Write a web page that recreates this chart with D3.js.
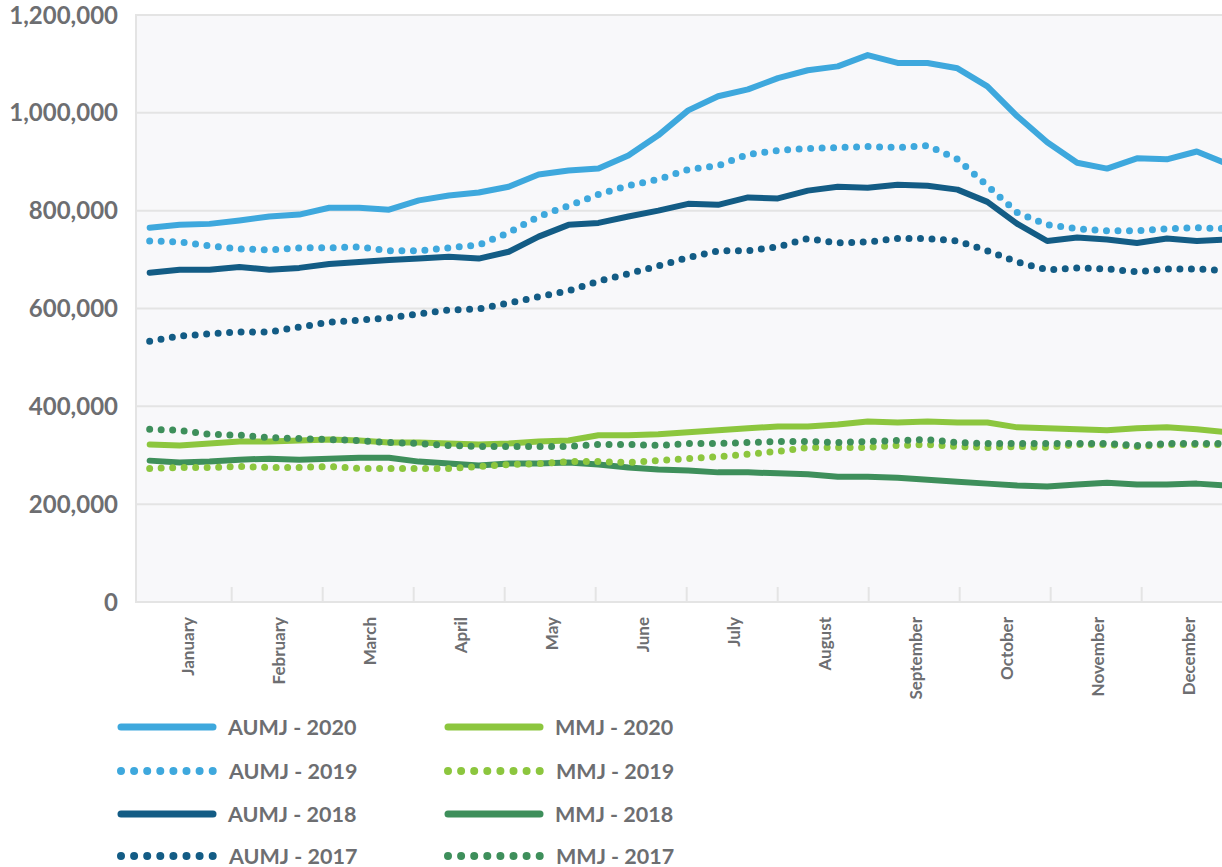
<!DOCTYPE html>
<html>
<meta charset="utf-8">
<head>
<style>
  body { margin: 0; background: #fff; overflow: hidden; }
  svg { display: block; }
  text { font-family: Lato, "Open Sans", sans-serif; font-weight: bold; fill: #6d6e71; }
</style>
</head>
<body>
<div id="chart"></div>
<script src="https://cdn.jsdelivr.net/npm/d3@7"></script>
<script>
// sample days (day of year) for every series
var days = [3, 13, 23, 33, 43, 53, 63, 73, 83, 93, 103, 113, 123, 133, 143, 153, 163, 173, 183,
            193, 203, 213, 223, 233, 243, 253, 263, 273, 283, 293, 303, 313, 323, 333, 343, 353, 363];

var months = ["January", "February", "March", "April", "May", "June", "July",
              "August", "September", "October", "November", "December"];

var yTicks = [0, 200000, 400000, 600000, 800000, 1000000, 1200000];

// values in thousands
var aumj2020 = [765, 771, 773, 780, 788, 792, 806, 806, 802, 821, 831, 837, 849, 874, 882, 886, 913, 954, 1005,
                1034, 1048, 1071, 1087, 1095, 1118, 1102, 1102, 1091, 1054, 993, 940, 898, 886, 907, 905, 921, 896];
var aumj2019 = [738, 736, 728, 722, 720, 724, 724, 726, 718, 718, 724, 730, 755, 788, 810, 833, 851, 864, 884,
                892, 915, 923, 927, 929, 931, 929, 933, 905, 851, 796, 771, 763, 759, 759, 763, 765, 763];
var aumj2018 = [673, 679, 679, 685, 679, 683, 691, 695, 699, 702, 706, 702, 716, 747, 771, 775, 788, 800, 814,
                812, 827, 825, 841, 849, 847, 853, 851, 843, 818, 773, 738, 745, 741, 734, 743, 738, 741];
var aumj2017 = [533, 544, 548, 552, 552, 562, 572, 576, 581, 589, 597, 599, 611, 624, 636, 656, 671, 687, 704,
                718, 718, 726, 743, 734, 736, 743, 743, 738, 718, 695, 679, 683, 681, 675, 681, 681, 677];
var mmj2020 = [322, 320, 324, 328, 328, 330, 332, 330, 326, 326, 324, 322, 324, 328, 330, 341, 341, 343, 347,
               351, 355, 359, 359, 363, 369, 367, 369, 367, 367, 357, 355, 353, 351, 355, 357, 353, 347];
var mmj2019 = [273, 275, 275, 277, 275, 275, 277, 273, 273, 273, 273, 277, 281, 283, 287, 287, 285, 289, 293,
               297, 302, 308, 316, 316, 316, 320, 322, 318, 316, 318, 316, 322, 322, 318, 322, 322, 322];
var mmj2018 = [289, 285, 287, 291, 293, 291, 293, 295, 295, 287, 283, 279, 283, 283, 285, 281, 275, 271, 269,
               265, 265, 263, 261, 256, 256, 254, 250, 246, 242, 238, 236, 240, 244, 240, 240, 242, 238];
var mmj2017 = [353, 351, 343, 341, 336, 334, 332, 330, 326, 324, 320, 318, 318, 318, 318, 322, 322, 320, 324,
               324, 326, 328, 328, 326, 328, 330, 332, 326, 324, 324, 324, 324, 324, 320, 324, 324, 324];

var lightBlue = "#3ea8dd", darkBlue = "#135c85", lightGreen = "#8cc63e", darkGreen = "#3e8f5b";

// draw order: 2020, 2018, 2019, 2017
var series = [
  {name: "AUMJ - 2020", values: aumj2020, color: lightBlue, dotted: false, col: 0, row: 0},
  {name: "MMJ - 2020", values: mmj2020, color: lightGreen, dotted: false, col: 1, row: 0},
  {name: "AUMJ - 2018", values: aumj2018, color: darkBlue, dotted: false, col: 0, row: 2},
  {name: "MMJ - 2018", values: mmj2018, color: darkGreen, dotted: false, col: 1, row: 2},
  {name: "AUMJ - 2019", values: aumj2019, color: lightBlue, dotted: true, col: 0, row: 1},
  {name: "MMJ - 2019", values: mmj2019, color: lightGreen, dotted: true, col: 1, row: 1},
  {name: "AUMJ - 2017", values: aumj2017, color: darkBlue, dotted: true, col: 0, row: 3},
  {name: "MMJ - 2017", values: mmj2017, color: darkGreen, dotted: true, col: 1, row: 3}
];

var W = 1222, H = 867;
var left = 136, plotTop = 15, plotBottom = 602;
var xStart = 140.7, xEnd = 1232.7;

var svg = d3.select("#chart").append("svg")
    .attr("width", W)
    .attr("height", H);

var x = d3.scaleLinear().domain([0, 365]).range([xStart, xEnd]);
var xm = d3.scaleBand().domain(months).range([xStart, xEnd]);
var y = d3.scaleLinear().domain([0, 1200000]).range([plotBottom, plotTop]);

// plot background
svg.append("rect")
    .attr("x", left).attr("y", plotTop)
    .attr("width", W - left).attr("height", plotBottom - plotTop)
    .attr("fill", "#f8f8fa");

// gridlines
svg.append("g")
  .selectAll("line")
  .data(yTicks)
  .enter().append("line")
    .attr("x1", left).attr("x2", W)
    .attr("y1", function(d) { return y(d); })
    .attr("y2", function(d) { return y(d); })
    .attr("stroke", "#e4e4e4")
    .attr("stroke-width", 2);

// left axis line
svg.append("line")
    .attr("x1", left).attr("x2", left)
    .attr("y1", plotTop - 1).attr("y2", plotBottom + 1)
    .attr("stroke", "#e4e4e4").attr("stroke-width", 2);

// month boundary ticks
svg.append("g")
  .selectAll("line")
  .data(months.slice(1))
  .enter().append("line")
    .attr("x1", function(d) { return xm(d); })
    .attr("x2", function(d) { return xm(d); })
    .attr("y1", plotBottom - 15).attr("y2", plotBottom)
    .attr("stroke", "#e4e4e4").attr("stroke-width", 2);

// y labels
var fmt = d3.format(",");
svg.append("g")
  .selectAll("text")
  .data(yTicks)
  .enter().append("text")
    .attr("x", 118)
    .attr("y", function(d) { return y(d); })
    .attr("dy", "0.36em")
    .attr("text-anchor", "end")
    .style("font-size", "24px")
    .text(function(d) { return fmt(d); });

// month labels
svg.append("g")
  .selectAll("text")
  .data(months)
  .enter().append("text")
    .attr("transform", function(d) {
      return "translate(" + (xm(d) + xm.bandwidth() / 2 + 2) + "," + 617 + ")rotate(-90)";
    })
    .attr("dy", "0.36em")
    .attr("text-anchor", "end")
    .style("font-size", "17px")
    .text(function(d) { return d; });

// lines
var line = d3.line()
    .x(function(d, i) { return x(days[i]); })
    .y(function(d) { return y(d * 1000); });

svg.append("clipPath").attr("id", "plotclip")
  .append("rect")
    .attr("x", left + 1).attr("y", 0)
    .attr("width", W).attr("height", plotBottom);

svg.append("g")
    .attr("clip-path", "url(#plotclip)")
  .selectAll("path")
  .data(series)
  .enter().append("path")
    .attr("d", function(d) { return line(d.values); })
    .attr("fill", "none")
    .attr("stroke", function(d) { return d.color; })
    .attr("stroke-width", function(d) { return d.dotted ? 7 : 6; })
    .attr("stroke-linecap", "round")
    .attr("stroke-linejoin", "round")
    .attr("stroke-dasharray", function(d) { return d.dotted ? "0 11.5" : null; });

// legend
var legendRowsY = [727, 771, 814, 856];
var legendColX = [121, 448];

var legend = svg.append("g")
  .selectAll("g")
  .data(series)
  .enter().append("g")
    .attr("transform", function(d) {
      return "translate(" + legendColX[d.col] + "," + legendRowsY[d.row] + ")";
    });

legend.append("line")
    .attr("x1", 0).attr("x2", 92)
    .attr("y1", 0).attr("y2", 0)
    .attr("stroke", function(d) { return d.color; })
    .attr("stroke-width", function(d) { return d.dotted ? 8 : 7; })
    .attr("stroke-linecap", "round")
    .attr("stroke-dasharray", function(d) { return d.dotted ? "0 13.1" : null; });

legend.append("text")
    .attr("x", function(d) { return d.dotted ? 108 : 107; })
    .attr("y", 0)
    .attr("dy", "0.36em")
    .style("font-size", "21.5px")
    .text(function(d) { return d.name; });
</script>
</body>
</html>
